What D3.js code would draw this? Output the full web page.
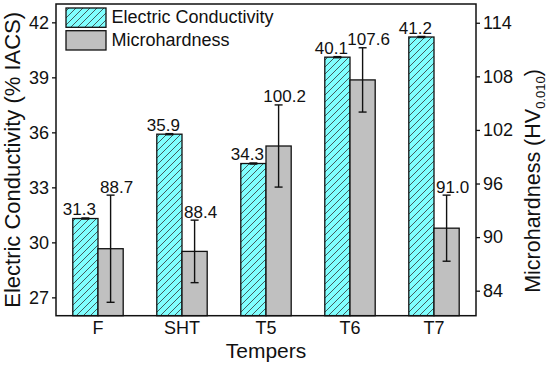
<!DOCTYPE html>
<html>
<head>
<meta charset="utf-8">
<script src="https://cdn.jsdelivr.net/npm/d3@7"></script>
<style>
	body { margin: 0; background: #fff; }
	svg { display: block; font-family: "Liberation Sans", Arial, sans-serif; }
</style>
</head>
<body>
<svg width="550" height="366"></svg>
<script>
const tempers = ['F', 'SHT', 'T5', 'T6', 'T7']
const conductivity = [31.3, 35.9, 34.3, 40.1, 41.2]
const conductivityErr = [0.03, 0.03, 0.03, 0.03, 0.03]
const hardness = [88.7, 88.4, 100.2, 107.6, 91.0]
const hardnessErr = [6.0, 3.5, 4.6, 3.6, 3.7]
const leftTicks = [27, 30, 33, 36, 39, 42]
const rightTicks = [84, 90, 96, 102, 108, 114]
const seriesNames = ['Electric Conductivity', 'Microhardness']

let config = {
	left: 56,
	right: 476,
	top: 4,
	bottom: 315.7,
	xScale: undefined,
	yLeft: undefined,
	yRight: undefined,
}

const svg = d3.select('svg')

function createScales() {
	config.xScale = d3.scaleBand()
		.domain(tempers)
		.range([config.left, config.right])
		.padding(0)
	config.yLeft = d3.scaleLinear()
		.domain([26, 43])
		.range([config.bottom, config.top])
	config.yRight = d3.scaleLinear()
		.domain([81.2, 116.1])
		.range([config.bottom, config.top])
}

function createPattern() {
	let pat = svg.append('defs').append('pattern')
		.attr('id', 'hatch')
		.attr('patternUnits', 'userSpaceOnUse')
		.attr('width', 7)
		.attr('height', 7)
	pat.append('rect')
		.attr('width', 7)
		.attr('height', 7)
		.attr('fill', '#80ffff')
	pat.append('path')
		.attr('d', 'M-1,1 L1,-1 M0,7 L7,0 M6,8 L8,6')
		.attr('stroke', '#333')
		.attr('stroke-width', 0.8)
}

function drawBars() {
	let bw = config.xScale.bandwidth() * 0.3
	let g = svg.append('g').attr('id', 'bars')

	tempers.forEach((t, i) => {
		let cx = config.xScale(t) + config.xScale.bandwidth() / 2
		let series = [
			{ x: cx - bw, v: conductivity[i], e: conductivityErr[i], y: config.yLeft, fill: 'url(#hatch)', dx: -6 },
			{ x: cx, v: hardness[i], e: hardnessErr[i], y: config.yRight, fill: '#c0c0c0', dx: 6 },
		]
		series.forEach(s => {
			g.append('rect')
				.attr('x', s.x)
				.attr('y', s.y(s.v))
				.attr('width', bw)
				.attr('height', config.bottom - s.y(s.v))
				.attr('fill', s.fill)
				.attr('stroke', '#111')
				.attr('stroke-width', 1.3)
			let mx = s.x + bw / 2
			let top = s.y(s.v + s.e)
			let bot = s.y(s.v - s.e)
			g.append('line')
				.attr('x1', mx).attr('x2', mx)
				.attr('y1', top).attr('y2', bot)
				.attr('stroke', '#111').attr('stroke-width', 1.4)
			;[top, bot].forEach(yy => {
				g.append('line')
					.attr('x1', mx - 4).attr('x2', mx + 4)
					.attr('y1', yy).attr('y2', yy)
					.attr('stroke', '#111').attr('stroke-width', 1.4)
			})
			g.append('text')
				.attr('x', mx + s.dx)
				.attr('y', top - 2.5)
				.attr('text-anchor', 'middle')
				.attr('font-size', 17)
				.attr('fill', '#111')
				.text(s.v.toFixed(1))
		})
	})
}

function drawAxis() {
	let leftAxis = d3.axisLeft(config.yLeft)
		.tickValues(leftTicks)
		.tickSize(4)
		.tickPadding(3)
		.tickFormat(d3.format('d'))
	let rightAxis = d3.axisRight(config.yRight)
		.tickValues(rightTicks)
		.tickSize(4)
		.tickPadding(3)
		.tickFormat(d3.format('d'))
	let bottomAxis = d3.axisBottom(config.xScale)
		.tickSize(0)
		.tickPadding(6)

	let lg = svg.append('g')
		.attr('transform', `translate(${config.left},0)`)
		.call(leftAxis)
	let rg = svg.append('g')
		.attr('transform', `translate(${config.right},0)`)
		.call(rightAxis)
	let bg = svg.append('g')
		.attr('transform', `translate(0,${config.bottom})`)
		.call(bottomAxis)

	;[lg, rg, bg].forEach(a => {
		a.select('.domain').remove()
		a.selectAll('text')
			.attr('font-size', 18)
			.attr('font-family', '"Liberation Sans", Arial, sans-serif')
			.attr('fill', '#111')
		a.selectAll('line').attr('stroke', '#111').attr('stroke-width', 1.3)
	})

	svg.append('rect')
		.attr('x', config.left)
		.attr('y', config.top)
		.attr('width', config.right - config.left)
		.attr('height', config.bottom - config.top)
		.attr('fill', 'none')
		.attr('stroke', '#111')
		.attr('stroke-width', 1.5)

	svg.append('text')
		.attr('transform', `translate(19.5,${(config.top + config.bottom) / 2}) rotate(-90)`)
		.attr('text-anchor', 'middle')
		.attr('font-size', 22)
		.attr('fill', '#111')
		.text('Electric Conductivity (% IACS)')

	let rt = svg.append('text')
		.attr('transform', `translate(540,181) rotate(-90)`)
		.attr('text-anchor', 'middle')
		.attr('font-size', 21.5)
		.attr('fill', '#111')
	rt.append('tspan').text('Microhardness (HV')
	rt.append('tspan').attr('font-size', 13).attr('dy', 5).text('0.010')
	rt.append('tspan').attr('dy', -5).text(')')

	svg.append('text')
		.attr('x', (config.left + config.right) / 2)
		.attr('y', 358)
		.attr('text-anchor', 'middle')
		.attr('font-size', 21)
		.attr('fill', '#111')
		.text('Tempers')
}

function drawLegend() {
	let fills = ['url(#hatch)', '#c0c0c0']
	let lg = svg.append('g').attr('id', 'legend')
	seriesNames.forEach((name, i) => {
		let y = 8 + i * 22.7
		lg.append('rect')
			.attr('x', 66)
			.attr('y', y)
			.attr('width', 40)
			.attr('height', 19.3)
			.attr('fill', fills[i])
			.attr('stroke', '#111')
			.attr('stroke-width', 1.3)
		lg.append('text')
			.attr('x', 111.5)
			.attr('y', y + 15.3)
			.attr('font-size', 18)
			.attr('fill', '#111')
			.text(name)
	})
}

createScales()
createPattern()
drawBars()
drawAxis()
drawLegend()
</script>
</body>
</html>
